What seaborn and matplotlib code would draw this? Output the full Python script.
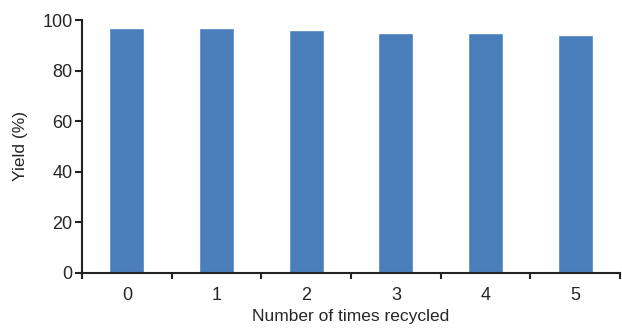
import numpy as np
import pandas as pd
import matplotlib
matplotlib.use("Agg")
import matplotlib.pyplot as plt
import seaborn as sns
from matplotlib.ticker import FixedLocator

# data
cycles = ["0", "1", "2", "3", "4", "5"]
yields = [97, 97, 96, 95, 95, 94]

df = pd.DataFrame({"cycle": cycles, "yield": yields})

sns.set_style("ticks")
plt.rcParams["font.family"] = ["Liberation Sans", "DejaVu Sans"]

fig = plt.figure(figsize=(6.22, 3.28), dpi=100)
ax = fig.add_axes([0.132, 0.168, 0.865, 0.771])

sns.barplot(data=df, x="cycle", y="yield", color="#4a7ebb", width=0.39,
            saturation=1, ax=ax)

ax.set_xlim(-0.5, 5.5)
ax.set_ylim(0, 100)
ax.set_yticks([0, 20, 40, 60, 80, 100])
ax.set_xlabel("Number of times recycled", fontsize=12.5, labelpad=4)
ax.set_ylabel("Yield (%)", fontsize=12.5, labelpad=10)

# ticks at category boundaries, labels centered
ax.xaxis.set_minor_locator(FixedLocator(np.arange(-0.5, 6.0, 1.0)))
ax.tick_params(axis="x", which="major", length=0, labelsize=13, pad=10)
ax.tick_params(axis="x", which="minor", length=4, width=1.5, color="#222222")
ax.tick_params(axis="y", length=5, width=1.5, labelsize=13, pad=2,
               color="#222222")

sns.despine(ax=ax)
for side in ["left", "bottom"]:
    ax.spines[side].set_linewidth(1.5)
    ax.spines[side].set_color("#222222")

fig.savefig("out.png", dpi=100, facecolor="white")
